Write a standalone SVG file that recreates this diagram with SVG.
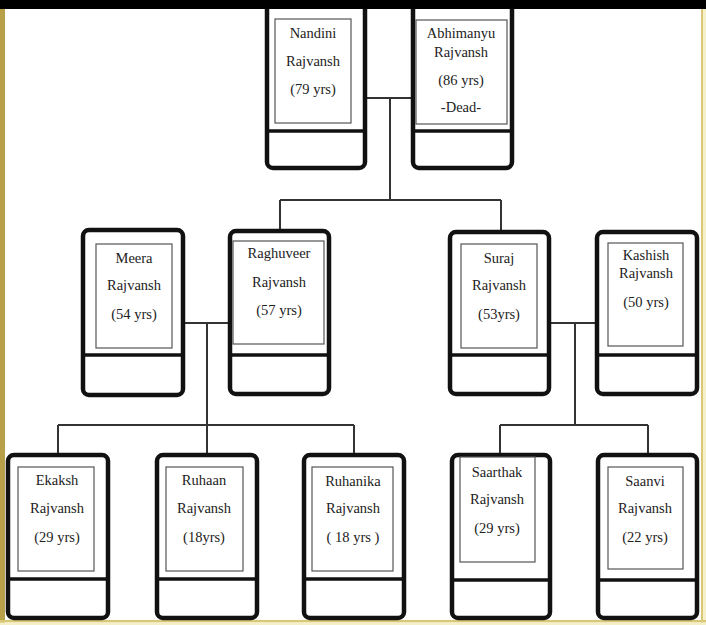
<svg xmlns="http://www.w3.org/2000/svg" width="706" height="625" viewBox="0 0 706 625">
<style>
.box{fill:#fff;stroke:#111;stroke-width:4.5}
.div{stroke:#111;stroke-width:3.5}
.in{fill:#fff;stroke:#555;stroke-width:1.2}
.t{font-family:'Liberation Serif','Times New Roman','DejaVu Serif',serif;font-size:14.5px;fill:#222;text-anchor:middle}
.c{fill:none;stroke:#333;stroke-width:2}
</style>
<rect x="0" y="0" width="706" height="625" fill="#fff"/>
<rect x="0" y="0" width="5" height="625" fill="#b8a048"/>
<rect x="701" y="0" width="2" height="625" fill="#d8c878"/>
<rect x="703" y="0" width="3" height="625" fill="#f6f0c8"/>
<rect x="0" y="620" width="706" height="2.5" fill="#d8c878"/>
<rect x="0" y="622.5" width="706" height="2.5" fill="#f6f0c8"/>
<g id="connectors">
<path class="c" d="M365 98H413M390 98V200M280 200H501M280 200V231M501 200V232"/>
<path class="c" d="M183 323H230M207 323V425M58 425H354M58 425V455M207 425V455M354 425V455"/>
<path class="c" d="M549 323H597M575 323V425M500 425H648M500 425V455M648 425V455"/>
</g>
<g id="nandini">
<rect class="box" x="267" y="-10" width="98" height="178" rx="6"/>
<line class="div" x1="267" y1="131" x2="365" y2="131"/>
<rect class="in" x="275" y="19" width="76" height="104"/>
<text class="t" x="313" y="38">Nandini</text>
<text class="t" x="313" y="66">Rajvansh</text>
<text class="t" x="313" y="94">(79  yrs)</text>
</g>
<g id="abhimanyu">
<rect class="box" x="413" y="-10" width="99" height="178" rx="6"/>
<line class="div" x1="413" y1="131" x2="512" y2="131"/>
<rect class="in" x="416" y="20" width="91" height="104"/>
<text class="t" x="461" y="38">Abhimanyu</text>
<text class="t" x="461" y="57">Rajvansh</text>
<text class="t" x="461" y="85">(86 yrs)</text>
<text class="t" x="461" y="112">-Dead-</text>
</g>
<g id="meera">
<rect class="box" x="83" y="230" width="100" height="165" rx="6"/>
<line class="div" x1="83" y1="355" x2="183" y2="355"/>
<rect class="in" x="96" y="244" width="76" height="104"/>
<text class="t" x="134" y="263">Meera</text>
<text class="t" x="134" y="290">Rajvansh</text>
<text class="t" x="134" y="319">(54 yrs)</text>
</g>
<g id="raghuveer">
<rect class="box" x="230" y="231" width="99" height="163" rx="6"/>
<line class="div" x1="230" y1="355" x2="329" y2="355"/>
<rect class="in" x="233" y="241" width="91" height="103"/>
<text class="t" x="279" y="258">Raghuveer</text>
<text class="t" x="279" y="287">Rajvansh</text>
<text class="t" x="279" y="315">(57 yrs)</text>
</g>
<g id="suraj">
<rect class="box" x="450" y="232" width="99" height="162" rx="6"/>
<line class="div" x1="450" y1="355" x2="549" y2="355"/>
<rect class="in" x="461" y="244" width="76" height="104"/>
<text class="t" x="499" y="263">Suraj</text>
<text class="t" x="499" y="290">Rajvansh</text>
<text class="t" x="499" y="319">(53yrs)</text>
</g>
<g id="kashish">
<rect class="box" x="597" y="232" width="100" height="162" rx="6"/>
<line class="div" x1="597" y1="355" x2="697" y2="355"/>
<rect class="in" x="608" y="243" width="75" height="103"/>
<text class="t" x="646" y="260">Kashish</text>
<text class="t" x="646" y="278">Rajvansh</text>
<text class="t" x="646" y="307">(50 yrs)</text>
</g>
<g id="ekaksh">
<rect class="box" x="8" y="455" width="100" height="163" rx="6"/>
<line class="div" x1="8" y1="579" x2="108" y2="579"/>
<rect class="in" x="18" y="467" width="76" height="104"/>
<text class="t" x="57" y="485">Ekaksh</text>
<text class="t" x="57" y="513">Rajvansh</text>
<text class="t" x="57" y="542">(29 yrs)</text>
</g>
<g id="ruhaan">
<rect class="box" x="157" y="455" width="100" height="163" rx="6"/>
<line class="div" x1="157" y1="579" x2="257" y2="579"/>
<rect class="in" x="166" y="467" width="77" height="104"/>
<text class="t" x="204" y="485">Ruhaan</text>
<text class="t" x="204" y="513">Rajvansh</text>
<text class="t" x="204" y="542">(18yrs)</text>
</g>
<g id="ruhanika">
<rect class="box" x="304" y="455" width="100" height="163" rx="6"/>
<line class="div" x1="304" y1="579" x2="404" y2="579"/>
<rect class="in" x="312" y="467" width="81" height="104"/>
<text class="t" x="353" y="486">Ruhanika</text>
<text class="t" x="353" y="513">Rajvansh</text>
<text class="t" x="353" y="542">( 18 yrs )</text>
</g>
<g id="saarthak">
<rect class="box" x="452" y="455" width="98" height="163" rx="6"/>
<line class="div" x1="452" y1="580" x2="550" y2="580"/>
<rect class="in" x="460" y="457" width="75" height="105"/>
<text class="t" x="497" y="477">Saarthak</text>
<text class="t" x="497" y="504">Rajvansh</text>
<text class="t" x="497" y="533">(29 yrs)</text>
</g>
<g id="saanvi">
<rect class="box" x="598" y="455" width="99" height="163" rx="6"/>
<line class="div" x1="598" y1="580" x2="697" y2="580"/>
<rect class="in" x="608" y="467" width="75" height="102"/>
<text class="t" x="645" y="486">Saanvi</text>
<text class="t" x="645" y="513">Rajvansh</text>
<text class="t" x="645" y="542">(22 yrs)</text>
</g>
<rect x="0" y="0" width="706" height="9" fill="#000"/>
</svg>
